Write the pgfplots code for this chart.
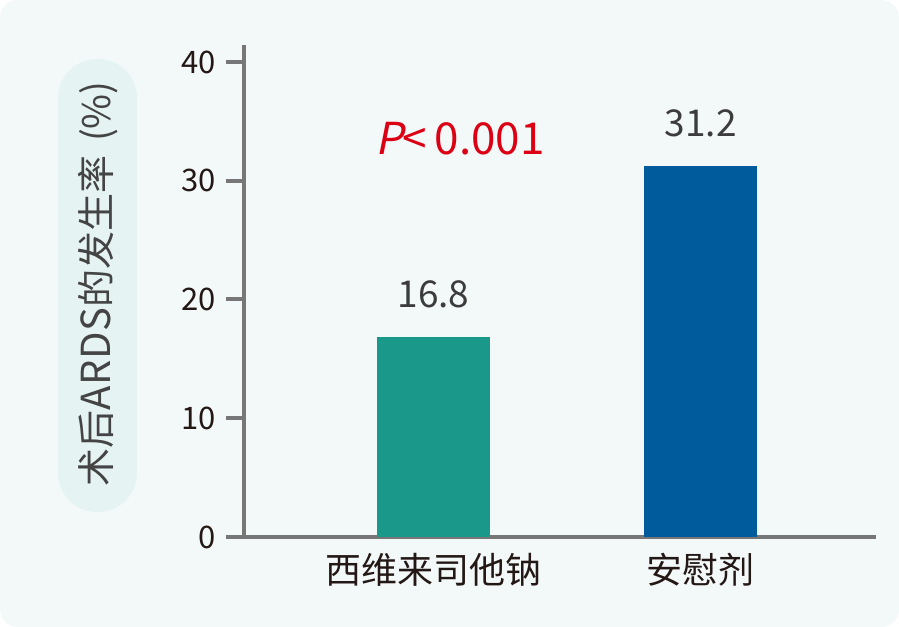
\documentclass[border=0pt]{standalone}
\usepackage{fontspec}
\setmainfont{Noto Sans CJK SC}
\newfontfamily\pfont[FakeSlant=0.2]{Noto Sans CJK SC}
\newfontfamily\lsfont[LetterSpace=2]{Noto Sans CJK SC}
\usepackage{pgfplots}
\pgfplotsset{compat=1.18}
\definecolor{bg}{HTML}{F3F9F9}
\definecolor{pill}{HTML}{E6F3F3}
\definecolor{axisgray}{HTML}{777777}
\definecolor{tickcol}{HTML}{231815}
\definecolor{valcol}{HTML}{3C3C3C}
\definecolor{labcol}{HTML}{444444}
\definecolor{teal}{HTML}{1A998A}
\definecolor{navy}{HTML}{005B9D}
\definecolor{pred}{HTML}{DC0014}
\begin{document}
\begin{tikzpicture}[x=1bp,y=1bp]
\fill[white] (0,0) rectangle (899,627);
\useasboundingbox (0,0) rectangle (899,627);
\fill[bg, rounded corners=18bp] (0,0) rectangle (899,627);
\fill[pill, rounded corners=39bp] (58,115) rectangle (137,568);
\node[rotate=90, text=labcol, font=\fontsize{38bp}{42bp}\selectfont, inner sep=0pt] at (98,343) {术后{\lsfont\fontsize{40bp}{42bp}\selectfont ARDS}的发生率\hspace{0.35em}(\%)};
\begin{axis}[
  at={(244bp,90bp)}, anchor=south west,
  scale only axis, width=632bp, height=492bp,
  xmin=-0.71, xmax=1.657, ymin=0, ymax=41.43,
  axis lines=left,
  axis line style={-, draw=axisgray, line width=4bp},
  ytick={0,10,20,30,40},
  xtick={0,1}, xticklabels={西维来司他钠,安慰剂},
  tick align=outside, major tick length=18bp,
  tick style={draw=axisgray, line width=4bp},
  major x tick style={draw=none},
  /pgf/number format/assume math mode=true,
  y tick label style={font=\fontsize{31bp}{36bp}\selectfont, text=tickcol, inner sep=0pt, xshift=-10bp},
  x tick label style={font=\fontsize{36bp}{40bp}\selectfont, text=tickcol, inner sep=0pt, anchor=north, yshift=2bp},
  ybar=0pt, bar width=113bp, bar shift=0pt,
  nodes near coords,
  every node near coord/.append style={font=\fontsize{37bp}{40bp}\selectfont, text=valcol, anchor=base, inner sep=0pt, yshift=30bp},
  clip=false,
]
\addplot[fill=teal, draw=none, bar shift=0pt] coordinates {(0,16.8)};
\addplot[fill=navy, draw=none, bar shift=0pt] coordinates {(1,31.2)};
\node[anchor=base west, inner sep=0pt, text=pred, font=\fontsize{44bp}{46bp}\selectfont] at (axis cs:-0.22,32.17) {{\pfont P}<\,0.001};
\end{axis}
\end{tikzpicture}
\end{document}
